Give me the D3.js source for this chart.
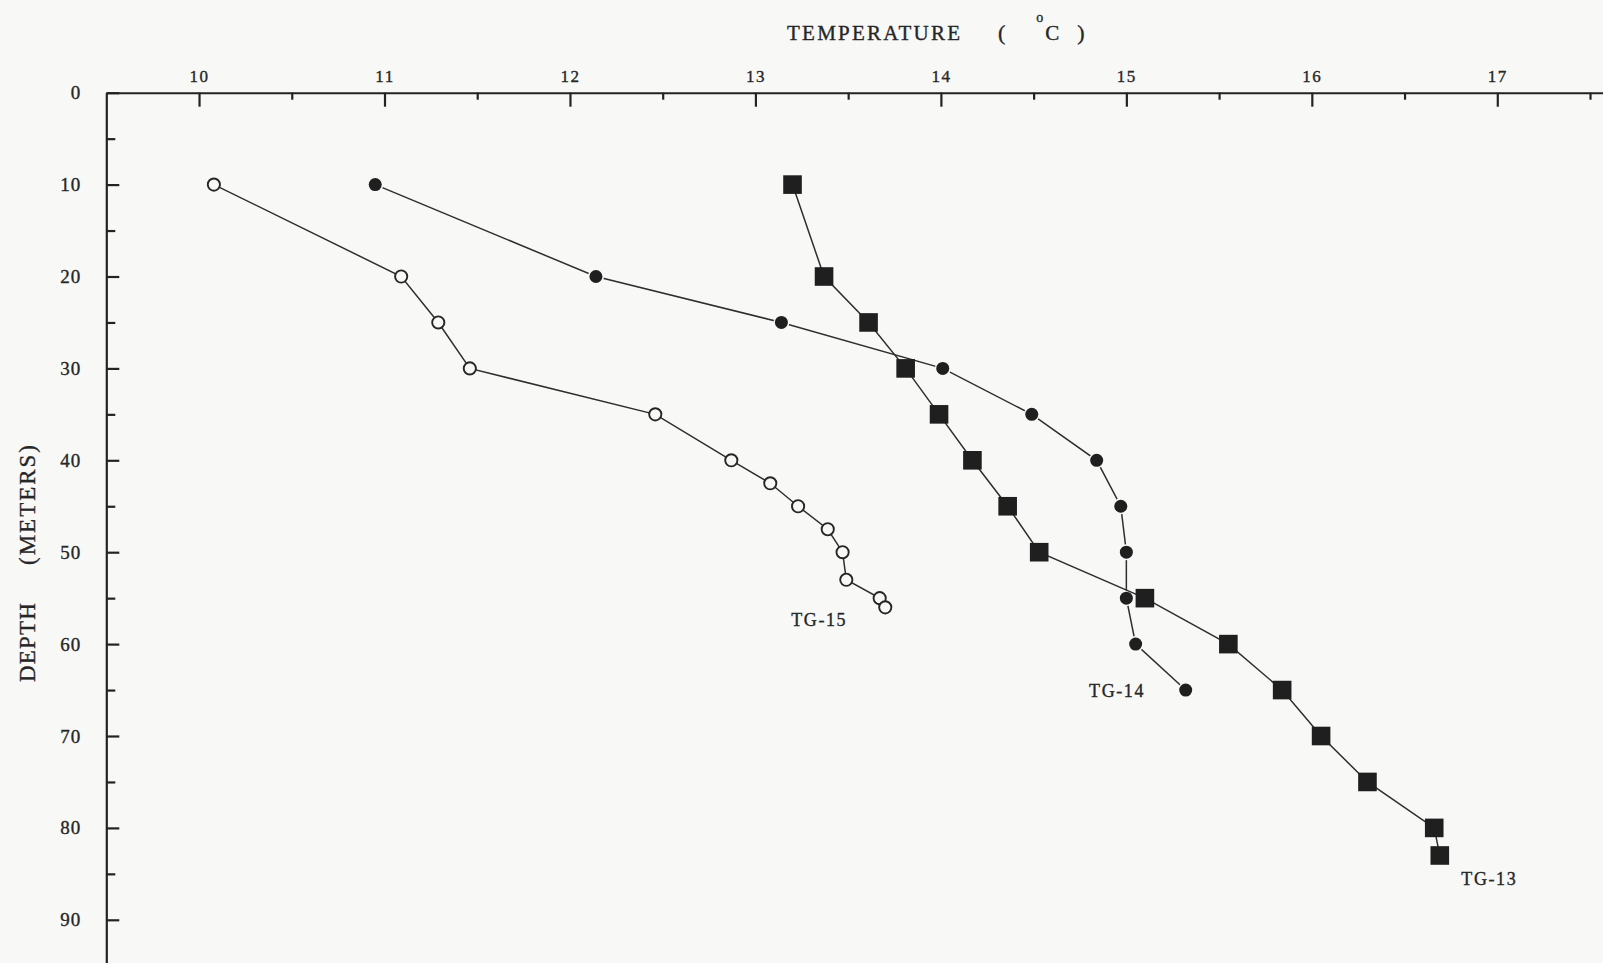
<!DOCTYPE html>
<html>
<head>
<meta charset="utf-8">
<script src="https://cdn.jsdelivr.net/npm/d3@7/dist/d3.min.js"></script>
<style>
  html, body { margin: 0; padding: 0; background: #f8f8f7; }
  svg { display: block; }
  text { font-family: "Liberation Serif", "DejaVu Serif", serif; fill: #262626; stroke: #262626; stroke-width: 0.35px; }
</style>
</head>
<body>
<svg id="chart" width="1603" height="963"></svg>
<script>
// Borehole temperature profiles: temperature (°C) against depth (m)

const tg15Temp  = [10.08, 11.09, 11.29, 11.46, 12.46, 12.87, 13.08, 13.23, 13.39, 13.47, 13.49, 13.67, 13.70];
const tg15Depth = [10, 20, 25, 30, 35, 40, 42.5, 45, 47.5, 50, 53, 55, 56];

const tg14Temp  = [10.95, 12.14, 13.14, 14.01, 14.49, 14.84, 14.97, 15.00, 15.00, 15.05, 15.32];
const tg14Depth = [10, 20, 25, 30, 35, 40, 45, 50, 55, 60, 65];

const tg13Temp  = [13.20, 13.37, 13.61, 13.81, 13.99, 14.17, 14.36, 14.53, 15.10, 15.55, 15.84, 16.05, 16.30, 16.66, 16.69];
const tg13Depth = [10, 20, 25, 30, 35, 40, 45, 50, 55, 60, 65, 70, 75, 80, 83];

const tempTicks  = [10, 11, 12, 13, 14, 15, 16, 17];
const depthTicks = [0, 10, 20, 30, 40, 50, 60, 70, 80, 90];

const seriesNames = ["TG-15", "TG-14", "TG-13"];

const svg = d3.select("#chart");
const W = 1603, H = 963;
const bg = "#f8f8f7";
const ink = "#232323";

const x = d3.scaleLinear().domain([9.5, 17.57]).range([106.3, W]);
const y = d3.scaleLinear().domain([0, 94.7]).range([92.7, H]);

// ---- top temperature axis (ticks point down into the plot)
const xMinor = d3.range(9.5, 17.6, 1).filter(v => v > 9.6);
svg.append("g")
  .attr("transform", `translate(0,${y(0)})`)
  .call(d3.axisTop(x).tickValues(xMinor).tickSizeInner(-7).tickSizeOuter(0).tickFormat(""))
  .call(g => g.select(".domain").remove())
  .call(g => g.selectAll("line").attr("stroke", ink).attr("stroke-width", 2.2));

svg.append("g")
  .attr("transform", `translate(0,${y(0)})`)
  .call(d3.axisTop(x).tickValues(tempTicks).tickSizeInner(-14).tickSizeOuter(0).tickPadding(11).tickFormat(d3.format("d")))
  .call(g => g.select(".domain").attr("stroke", ink).attr("stroke-width", 2))
  .call(g => g.selectAll("line").attr("stroke", ink).attr("stroke-width", 2.2))
  .call(g => g.selectAll("text").attr("font-size", 17).attr("letter-spacing", 1.5)
        .style("font-family", "'Liberation Serif', serif").attr("fill", ink));

// ---- left depth axis (ticks point right into the plot)
const yMinor = d3.range(5, 95, 10);
svg.append("g")
  .attr("transform", `translate(${x(9.5)},0)`)
  .call(d3.axisLeft(y).tickValues(yMinor).tickSizeInner(-9).tickSizeOuter(0).tickFormat(""))
  .call(g => g.select(".domain").remove())
  .call(g => g.selectAll("line").attr("stroke", ink).attr("stroke-width", 2.2));

svg.append("g")
  .attr("transform", `translate(${x(9.5)},0)`)
  .call(d3.axisLeft(y).tickValues(depthTicks).tickSizeInner(-13).tickSizeOuter(0).tickPadding(25).tickFormat(d3.format("d")))
  .call(g => g.select(".domain").attr("stroke", ink).attr("stroke-width", 2.2))
  .call(g => g.selectAll("line").attr("stroke", ink).attr("stroke-width", 2.2))
  .call(g => g.selectAll("text").attr("font-size", 19).attr("letter-spacing", 1)
        .style("font-family", "'Liberation Serif', serif").attr("fill", ink));

// ---- axis titles
svg.append("text").attr("x", 787).attr("y", 39.5).attr("font-size", 21)
  .attr("textLength", 173).attr("lengthAdjust", "spacing").text("TEMPERATURE");

// unit in one text element: "( °C )" with a raised small "o" just ahead of the C
const unit = svg.append("text").attr("x", 998).attr("y", 40).attr("font-size", 22);
unit.append("tspan").text("(");
unit.append("tspan").attr("dx", 31).attr("dy", -18).attr("font-size", 14).text("o");
unit.append("tspan").attr("dx", 2).attr("dy", 18).attr("font-size", 21).text("C");
unit.append("tspan").attr("dx", 18).attr("font-size", 22).text(")");

const yTitle = svg.append("g").attr("transform", "translate(35,0) rotate(-90)");
yTitle.append("text").attr("x", -682).attr("y", 0).attr("font-size", 23)
  .attr("textLength", 79).attr("lengthAdjust", "spacing").text("DEPTH");
yTitle.append("text").attr("x", -565).attr("y", 0).attr("font-size", 23)
  .attr("textLength", 120).attr("lengthAdjust", "spacing").text("(METERS)");

// ---- profiles
const series = [
  { name: seriesNames[0], temp: tg15Temp, depth: tg15Depth, marker: "open" },
  { name: seriesNames[1], temp: tg14Temp, depth: tg14Depth, marker: "dot" },
  { name: seriesNames[2], temp: tg13Temp, depth: tg13Depth, marker: "square" }
];

const line = d3.line().x(d => x(d[0])).y(d => y(d[1]));

series.forEach(s => {
  const pts = s.temp.map((t, i) => [t, s.depth[i]]);
  const g = svg.append("g");
  g.append("path").datum(pts).attr("d", line)
    .attr("fill", "none").attr("stroke", "#2e2e2e").attr("stroke-width", 1.5);

  if (s.marker === "square") {
    g.selectAll("rect").data(pts).join("rect")
      .attr("x", d => x(d[0]) - 9.3).attr("y", d => y(d[1]) - 9.3)
      .attr("width", 18.6).attr("height", 18.6)
      .attr("fill", "#1f1f1f");
  } else if (s.marker === "dot") {
    g.selectAll("circle").data(pts).join("circle")
      .attr("cx", d => x(d[0])).attr("cy", d => y(d[1])).attr("r", 6.5)
      .attr("fill", "#1f1f1f").attr("stroke", bg).attr("stroke-width", 3)
      .style("paint-order", "stroke");
  } else {
    g.selectAll("circle").data(pts).join("circle")
      .attr("cx", d => x(d[0])).attr("cy", d => y(d[1])).attr("r", 6.1)
      .attr("fill", bg).attr("stroke", "#262626").attr("stroke-width", 1.9);
  }
});

// ---- profile names, anchored in data units
const labelAt = { "TG-15": [13.344, 57.6], "TG-14": [14.95, 65.3], "TG-13": [16.957, 85.8] };
seriesNames.forEach(n => {
  svg.append("text")
    .attr("x", x(labelAt[n][0])).attr("y", y(labelAt[n][1]))
    .attr("text-anchor", "middle").attr("dominant-baseline", "middle")
    .attr("font-size", 18).attr("letter-spacing", 1.6)
    .text(n);
});
</script>
</body>
</html>
